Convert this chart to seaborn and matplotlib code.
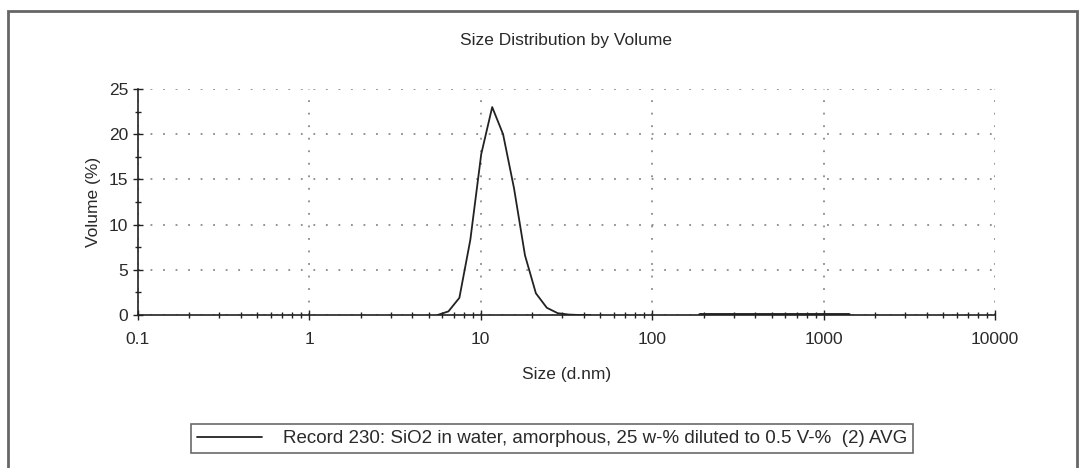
import numpy as np
import pandas as pd
import matplotlib
matplotlib.use("Agg")
import matplotlib.pyplot as plt
from matplotlib.patches import Rectangle
from matplotlib.ticker import LogLocator, FixedLocator, NullFormatter
import seaborn as sns

# Data (size in d.nm, volume %)
sizes_main = [5.615, 6.503, 7.531, 8.721, 10.10, 11.70, 13.54, 15.69, 18.17,
              21.04, 24.36, 28.21, 32.67, 37.84, 43.82]
volume_main = [0.0, 0.4, 1.9, 8.3, 17.8, 23.0, 20.0, 14.0, 6.6,
               2.4, 0.8, 0.2, 0.05, 0.0, 0.0]
sizes_tail = [190.1, 220.2, 255.0, 295.3, 342.0, 396.1, 458.7, 531.2, 615.1,
              712.4, 825.0, 955.4, 1106.0, 1281.0, 1400.0]
volume_tail = [0.05] * 15
legend_label = "Record 230: SiO2 in water, amorphous, 25 w-% diluted to 0.5 V-%  (2) AVG"
x_ticks = [0.1, 1, 10, 100, 1000, 10000]
x_ticklabels = ["0.1", "1", "10", "100", "1000", "10000"]
y_ticks = [0, 5, 10, 15, 20, 25]

sns.set_style("white")
plt.rcParams['font.family'] = ['Liberation Sans', 'DejaVu Sans']
text_color = "#2a2a2a"
fs = 12.5

W, H = 1079, 468
fig = plt.figure(figsize=(W / 100, H / 100), dpi=100)
ax = fig.add_axes([137.5 / W, 1 - 315 / H, (995 - 137.5) / W, (315 - 89) / H])

df_main = pd.DataFrame({"size": sizes_main, "volume": volume_main})
df_tail = pd.DataFrame({"size": sizes_tail, "volume": volume_tail})
sns.lineplot(data=df_main, x="size", y="volume", ax=ax, color="#222222", lw=1.3,
             label=legend_label, legend=False, zorder=5)
sns.lineplot(data=df_tail, x="size", y="volume", ax=ax, color="#222222", lw=2.8,
             legend=False, zorder=5)

ax.set_xscale("log")
ax.set_xlim(0.1, 10000)
ax.set_ylim(0, 25)
ax.xaxis.set_major_locator(FixedLocator(x_ticks))
ax.set_xticklabels(x_ticklabels)
ax.xaxis.set_minor_locator(LogLocator(base=10, subs=np.arange(2, 10)))
ax.xaxis.set_minor_formatter(NullFormatter())
ax.set_yticks(y_ticks)
ax.yaxis.set_minor_locator(FixedLocator([2.5, 7.5, 12.5, 17.5, 22.5]))

for side in ["top", "right"]:
    ax.spines[side].set_visible(False)
for side in ["left", "bottom"]:
    ax.spines[side].set_color("#222222")
    ax.spines[side].set_linewidth(1.2)

ax.tick_params(axis="both", which="major", direction="inout", length=7, width=1,
               color="#222222", labelsize=fs, labelcolor=text_color)
ax.tick_params(axis="x", which="major", pad=9)
ax.tick_params(axis="y", which="major", pad=3)
ax.tick_params(axis="both", which="minor", direction="inout", length=5, width=1,
               color="#222222")
ax.tick_params(axis="x", which="both", bottom=True)
ax.tick_params(axis="y", which="both", left=True)

ax.grid(True, which="major", color="#777777", linestyle=(0, (1.2, 7)), linewidth=1.1)
ax.set_axisbelow(True)

ax.set_xlabel("Size (d.nm)", fontsize=fs, color=text_color, labelpad=14)
ax.set_ylabel("Volume (%)", fontsize=fs, color=text_color, labelpad=6)
ax.set_title("Size Distribution by Volume", fontsize=fs, color=text_color, pad=32)

leg = fig.legend(loc="center", bbox_to_anchor=(552 / W, 1 - 438.5 / H),
                 frameon=True, fancybox=False, fontsize=13.5, handlelength=3.5,
                 borderpad=0.3, handletextpad=1.1)
leg.get_frame().set_edgecolor("#444444")
leg.get_frame().set_linewidth(1.2)
for t in leg.get_texts():
    t.set_color(text_color)

fig.patches.append(Rectangle((8 / W, -0.05), (1077 - 8) / W, 1 - 11 / H + 0.05,
                             transform=fig.transFigure, fill=False,
                             edgecolor="#666666", linewidth=2, zorder=-1))

fig.savefig("out.png", dpi=100)
